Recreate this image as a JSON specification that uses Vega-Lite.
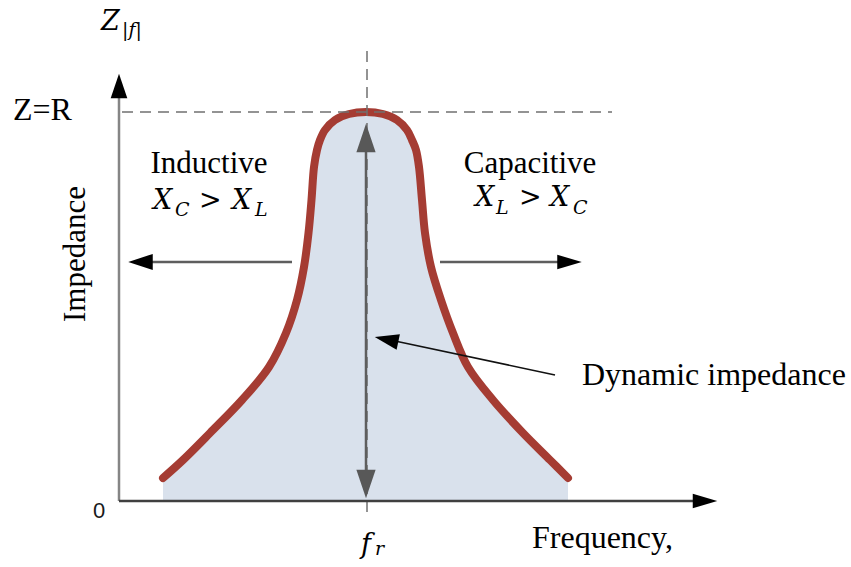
{
  "$schema": "https://vega.github.io/schema/vega-lite/v6.json",
  "width": 851,
  "height": 567,
  "padding": 0,
  "autosize": {"type": "none"},
  "background": "white",
  "config": {"view": {"stroke": null}},
  "datasets": {
    "curve": [
      {"x": 43, "y": 22}, {"x": 63, "y": 40}, {"x": 90, "y": 67}, {"x": 122, "y": 100},
      {"x": 149, "y": 133}, {"x": 166, "y": 167}, {"x": 177, "y": 200}, {"x": 184, "y": 233},
      {"x": 188.5, "y": 267}, {"x": 191.5, "y": 300}, {"x": 194, "y": 333}, {"x": 197, "y": 350},
      {"x": 200, "y": 360}, {"x": 205, "y": 370}, {"x": 215, "y": 380}, {"x": 229, "y": 386}, {"x": 246, "y": 388},
      {"x": 263, "y": 386}, {"x": 277, "y": 380}, {"x": 287, "y": 370}, {"x": 292, "y": 360},
      {"x": 296, "y": 350}, {"x": 299, "y": 333}, {"x": 302, "y": 300}, {"x": 305, "y": 267},
      {"x": 311, "y": 233}, {"x": 321, "y": 200}, {"x": 333, "y": 167}, {"x": 348, "y": 133},
      {"x": 373, "y": 100}, {"x": 403, "y": 67}, {"x": 430, "y": 40}, {"x": 448, "y": 22}
    ],
    "segments": [
      {"part": "yaxis", "x": -1, "y": -1, "x2": -1, "y2": 406},
      {"part": "xaxis", "x": -1, "y": -1, "x2": 575, "y2": -1},
      {"part": "hdash", "x": 2, "y": 388, "x2": 492, "y2": 388},
      {"part": "vdash", "x": 247, "y": -12, "x2": 247, "y2": 452},
      {"part": "side", "x": 172, "y": 238, "x2": 25, "y2": 238},
      {"part": "side", "x": 320, "y": 238, "x2": 445, "y2": 238},
      {"part": "double", "x": 246, "y": 25, "x2": 246, "y2": 355},
      {"part": "pointer", "x": 435, "y": 125, "x2": 275, "y2": 159}
    ],
    "heads": [
      {"group": "black", "dir": "up", "x": -1, "y": 414},
      {"group": "black", "dir": "right", "x": 585, "y": -1},
      {"group": "black", "dir": "left", "x": 20.5, "y": 238},
      {"group": "black", "dir": "right", "x": 449.5, "y": 238},
      {"group": "gray", "dir": "up", "x": 246, "y": 362},
      {"group": "gray", "dir": "down", "x": 246, "y": 16},
      {"group": "pointer", "dir": "left", "x": 266.5, "y": 160.5}
    ],
    "labels": [
      {"text": "Inductive", "x": 89, "y": 327},
      {"text": "Capacitive", "x": 410, "y": 327}
    ],
    "leftLabels": [
      {"text": "Dynamic impedance", "x": 462, "y": 115},
      {"text": "Frequency,", "x": 412, "y": -48},
      {"text": "Z=R", "x": -107, "y": 380}
    ],
    "vlabel": [{"text": "Impedance", "x": -35, "y": 246}],
    "mathBig": [
      {"text": "Z", "x": -19, "y": 470},
      {"text": "X", "x": 33, "y": 291},
      {"text": "X", "x": 112, "y": 291},
      {"text": "X", "x": 355, "y": 294},
      {"text": "X", "x": 430, "y": 294},
      {"text": "f", "x": 241, "y": -53}
    ],
    "mathSub": [
      {"text": "|f|", "x": 2, "y": 464},
      {"text": "C", "x": 55, "y": 284},
      {"text": "L", "x": 135, "y": 284},
      {"text": "L", "x": 376, "y": 286},
      {"text": "C", "x": 453, "y": 286},
      {"text": "r", "x": 255, "y": -55}
    ],
    "ops": [
      {"text": ">", "x": 79, "y": 291},
      {"text": ">", "x": 399, "y": 294}
    ],
    "zero": [{"text": "0", "x": -21, "y": -18}]
  },
  "encoding": {
    "x": {"field": "x", "type": "quantitative", "scale": {"domain": [-120, 731], "nice": false, "zero": false}, "axis": null},
    "y": {"field": "y", "type": "quantitative", "scale": {"domain": [-67, 500], "nice": false, "zero": false}, "axis": null}
  },
  "layer": [
    {
      "data": {"name": "curve"},
      "mark": {"type": "area", "interpolate": "catmull-rom", "color": "#d9e1ec"},
      "encoding": {"y2": {"datum": 0}}
    },
    {
      "data": {"name": "curve"},
      "mark": {"type": "line", "interpolate": "catmull-rom", "color": "#a53c33", "strokeWidth": 8, "strokeCap": "round", "strokeJoin": "round"},
      "encoding": {}
    },
    {
      "data": {"name": "segments"},
      "transform": [{"filter": "datum.part === 'hdash' || datum.part === 'vdash'"}],
      "mark": {"type": "rule", "color": "#707070", "strokeWidth": 1.5, "strokeDash": [11, 7]},
      "encoding": {"x2": {"field": "x2"}, "y2": {"field": "y2"}}
    },
    {
      "data": {"name": "segments"},
      "transform": [{"filter": "datum.part === 'yaxis'"}],
      "mark": {"type": "rule", "color": "#858585", "strokeWidth": 2.5},
      "encoding": {"x2": {"field": "x2"}, "y2": {"field": "y2"}}
    },
    {
      "data": {"name": "segments"},
      "transform": [{"filter": "datum.part === 'xaxis'"}],
      "mark": {"type": "rule", "color": "#404040", "strokeWidth": 2.5},
      "encoding": {"x2": {"field": "x2"}, "y2": {"field": "y2"}}
    },
    {
      "data": {"name": "segments"},
      "transform": [{"filter": "datum.part === 'side' || datum.part === 'double'"}],
      "mark": {"type": "rule", "color": "#5e5e5e", "strokeWidth": 2.5},
      "encoding": {"x2": {"field": "x2"}, "y2": {"field": "y2"}}
    },
    {
      "data": {"name": "segments"},
      "transform": [{"filter": "datum.part === 'pointer'"}],
      "mark": {"type": "rule", "color": "#111111", "strokeWidth": 1.6},
      "encoding": {"x2": {"field": "x2"}, "y2": {"field": "y2"}}
    },
    {
      "data": {"name": "heads"},
      "transform": [{"filter": "datum.group === 'black'"}],
      "mark": {"type": "point", "filled": true, "color": "#000000", "opacity": 1, "size": 600, "strokeWidth": 0},
      "encoding": {
        "shape": {"field": "dir", "type": "nominal", "legend": null,
          "scale": {"domain": ["up", "down", "left", "right"],
            "range": ["M0,-1L0.68,1L-0.68,1Z", "M0,1L0.68,-1L-0.68,-1Z", "M-1,0L1,-0.66L1,0.66Z", "M1,0L-1,-0.6L-1,0.6Z"]}}
      }
    },
    {
      "data": {"name": "heads"},
      "transform": [{"filter": "datum.group === 'gray'"}],
      "mark": {"type": "point", "filled": true, "color": "#585858", "opacity": 1, "size": 800, "strokeWidth": 0},
      "encoding": {
        "shape": {"field": "dir", "type": "nominal", "legend": null}
      }
    },
    {
      "data": {"name": "heads"},
      "transform": [{"filter": "datum.group === 'pointer'"}],
      "mark": {"type": "point", "filled": true, "color": "#000000", "opacity": 1, "size": 576, "strokeWidth": 0, "angle": 12},
      "encoding": {
        "shape": {"field": "dir", "type": "nominal", "legend": null}
      }
    },
    {
      "data": {"name": "labels"},
      "mark": {"type": "text", "font": "Liberation Serif", "fontSize": 31, "align": "center", "baseline": "alphabetic", "color": "#000000"},
      "encoding": {"text": {"field": "text"}}
    },
    {
      "data": {"name": "leftLabels"},
      "mark": {"type": "text", "font": "Liberation Serif", "fontSize": 32, "align": "left", "baseline": "alphabetic", "color": "#000000"},
      "encoding": {"text": {"field": "text"}}
    },
    {
      "data": {"name": "vlabel"},
      "mark": {"type": "text", "font": "Liberation Serif", "fontSize": 31, "align": "center", "baseline": "alphabetic", "angle": 270, "color": "#000000"},
      "encoding": {"text": {"field": "text"}}
    },
    {
      "data": {"name": "mathBig"},
      "mark": {"type": "text", "font": "DejaVu Serif", "fontStyle": "italic", "fontSize": 27, "align": "left", "baseline": "alphabetic", "color": "#000000"},
      "encoding": {"text": {"field": "text"}}
    },
    {
      "data": {"name": "mathSub"},
      "mark": {"type": "text", "font": "DejaVu Serif", "fontStyle": "italic", "fontSize": 19, "align": "left", "baseline": "alphabetic", "color": "#000000"},
      "encoding": {"text": {"field": "text"}}
    },
    {
      "data": {"name": "ops"},
      "mark": {"type": "text", "font": "DejaVu Serif", "fontSize": 27, "align": "left", "baseline": "alphabetic", "color": "#000000"},
      "encoding": {"text": {"field": "text"}}
    },
    {
      "data": {"name": "zero"},
      "mark": {"type": "text", "font": "Liberation Sans", "fontSize": 22, "align": "center", "baseline": "alphabetic", "color": "#1a1a1a"},
      "encoding": {"text": {"field": "text"}}
    }
  ]
}
